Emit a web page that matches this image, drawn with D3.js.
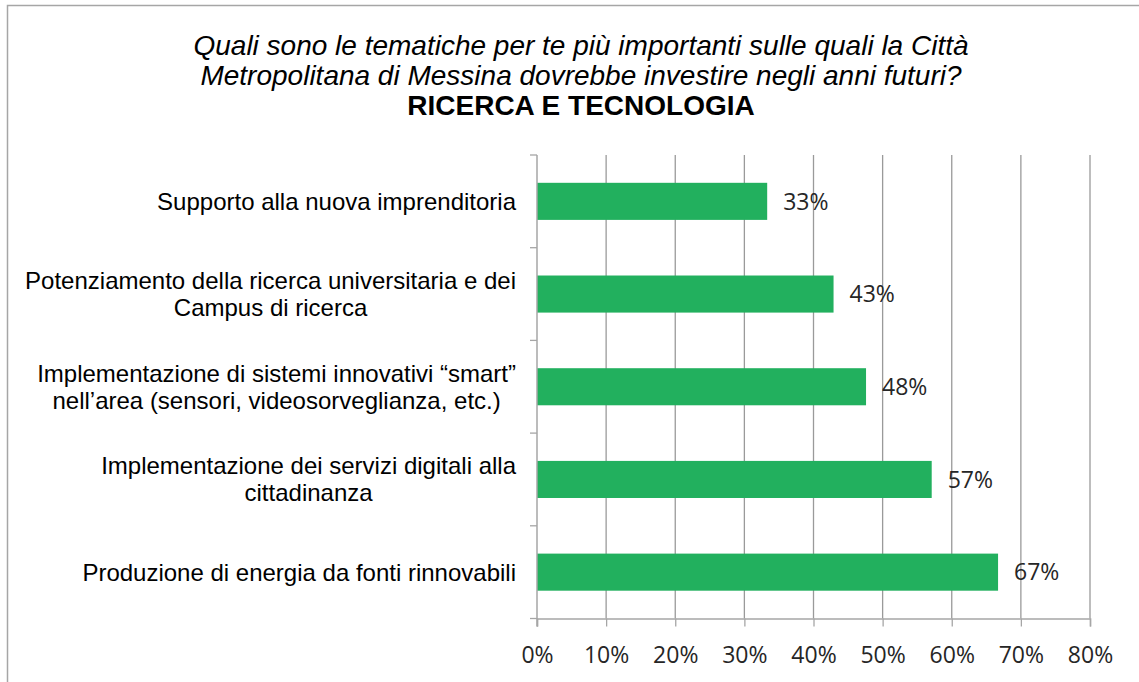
<!DOCTYPE html>
<html>
<head>
<meta charset="utf-8">
<script src="https://cdn.jsdelivr.net/npm/d3@7"></script>
<style>
  body { margin: 0; background: #fff; }
  svg { display: block; }
</style>
</head>
<body>
<svg id="drawing_region"></svg>
<script>
// data (top to bottom)
const categories = [
  'Supporto alla nuova imprenditoria',
  'Potenziamento della ricerca universitaria e dei\nCampus di ricerca',
  'Implementazione di sistemi innovativi \u201csmart\u201d\nnell\u2019area (sensori, videosorveglianza, etc.)',
  'Implementazione dei servizi digitali alla\ncittadinanza',
  'Produzione di energia da fonti rinnovabili'
]
const values = [0.333, 0.429, 0.476, 0.571, 0.667]
const xTicks = [0, 0.1, 0.2, 0.3, 0.4, 0.5, 0.6, 0.7, 0.8]
const titleLines = [
  'Quali sono le tematiche per te più importanti sulle quali la Città',
  'Metropolitana di Messina dovrebbe investire negli anni futuri?'
]
const subtitle = 'RICERCA E TECNOLOGIA'

const config = {
  width: 1139,
  height: 682,
  margin: {top: 155, right: 49, bottom: 63.5, left: 537}
}

const svg = d3.select('#drawing_region')
  .attr('width', config.width)
  .attr('height', config.height)

// chart frame (cut by the screenshot on right and bottom)
svg.append('path')
  .attr('d', `M7.5,${config.height} V5.5 H${config.width}`)
  .attr('fill', 'none')
  .attr('stroke', '#a6a6a6')
  .attr('stroke-width', 1.5)

// titles
const title = svg.append('g')
  .attr('text-anchor', 'middle')
  .attr('font-family', 'Liberation Sans, Arial, sans-serif')
  .attr('fill', '#000')
title.selectAll('text.q')
  .data(titleLines).enter()
  .append('text')
  .attr('class', 'q')
  .attr('x', 581)
  .attr('y', (d, i) => 55 + i * 30)
  .attr('font-size', 28)
  .attr('font-style', 'italic')
  .text(d => d)
title.append('text')
  .attr('x', 581)
  .attr('y', 115)
  .attr('font-size', 28)
  .attr('font-weight', 'bold')
  .text(subtitle)

const innerW = config.width - config.margin.left - config.margin.right
const innerH = config.height - config.margin.top - config.margin.bottom

const chart = svg.append('g')
  .attr('transform', `translate(${config.margin.left},${config.margin.top})`)

const xscale = d3.scaleLinear().domain([0, 0.8]).range([0, innerW])
const yscale = d3.scaleBand().domain(categories).range([0, innerH])
  .paddingInner(0.6).paddingOuter(0.3)

// gridlines
chart.append('g')
  .selectAll('line')
  .data(xTicks.slice(1)).enter()
  .append('line')
  .attr('x1', d => xscale(d)).attr('x2', d => xscale(d))
  .attr('y1', 0).attr('y2', innerH)
  .attr('stroke', '#9a9a9a')
  .attr('stroke-width', 1.3)

// bars
chart.append('g')
  .selectAll('rect')
  .data(categories).enter()
  .append('rect')
  .attr('x', 0)
  .attr('y', d => yscale(d))
  .attr('width', (d, i) => xscale(values[i]))
  .attr('height', yscale.bandwidth())
  .attr('fill', '#22b05e')

// value labels
chart.append('g')
  .selectAll('text')
  .data(categories).enter()
  .append('text')
  .attr('x', (d, i) => xscale(values[i]) + 16)
  .attr('y', d => yscale(d) + yscale.bandwidth() / 2)
  .attr('dy', '0.36em')
  .attr('font-family', 'Open Sans, sans-serif')
  .attr('font-size', 23)
  .attr('fill', '#262626')
  .text((d, i) => d3.format('.0%')(values[i]))

// x axis
const xaxis = d3.axisBottom(xscale)
  .tickValues(xTicks)
  .tickFormat(d3.format('.0%'))
  .tickSize(8)
  .tickPadding(20)
const xg = chart.append('g')
  .attr('transform', `translate(0,${innerH})`)
  .call(xaxis)
xg.select('.domain').attr('stroke', '#a6a6a6').attr('stroke-width', 1.5)
xg.selectAll('.tick line').attr('stroke', '#a6a6a6').attr('stroke-width', 1.3)
xg.selectAll('.tick text')
  .attr('font-family', 'Open Sans, sans-serif')
  .attr('font-size', 23)
  .attr('fill', '#262626')

// y axis line with ticks at category boundaries
const step = yscale.step()
const bounds = categories.map(d => yscale(d) - step * yscale.paddingOuter())
bounds.push(innerH)
chart.append('line')
  .attr('x1', 0).attr('x2', 0).attr('y1', 0).attr('y2', innerH + 8)
  .attr('stroke', '#a6a6a6').attr('stroke-width', 1.5)
chart.append('g')
  .selectAll('line')
  .data(bounds).enter()
  .append('line')
  .attr('x1', -7).attr('x2', 0)
  .attr('y1', d => d).attr('y2', d => d)
  .attr('stroke', '#a6a6a6').attr('stroke-width', 1.3)

// category labels: centred lines, block right-aligned
const labelRight = -21
const lineH = 27
const labels = chart.append('g')
  .attr('font-family', 'Liberation Sans, Arial, sans-serif')
  .attr('font-size', 24)
  .attr('fill', '#000')
categories.forEach(cat => {
  const lines = cat.split('\n')
  const cy = yscale(cat) + yscale.bandwidth() / 2
  const t = labels.append('text').attr('text-anchor', 'middle')
  lines.forEach((ln, j) => {
    t.append('tspan')
      .attr('y', cy + (j - (lines.length - 1) / 2) * lineH)
      .attr('dy', '0.35em')
      .text(ln)
  })
  const maxW = d3.max(t.selectAll('tspan').nodes(), n => n.getComputedTextLength())
  t.selectAll('tspan').attr('x', labelRight - maxW / 2)
})
</script>
</body>
</html>
